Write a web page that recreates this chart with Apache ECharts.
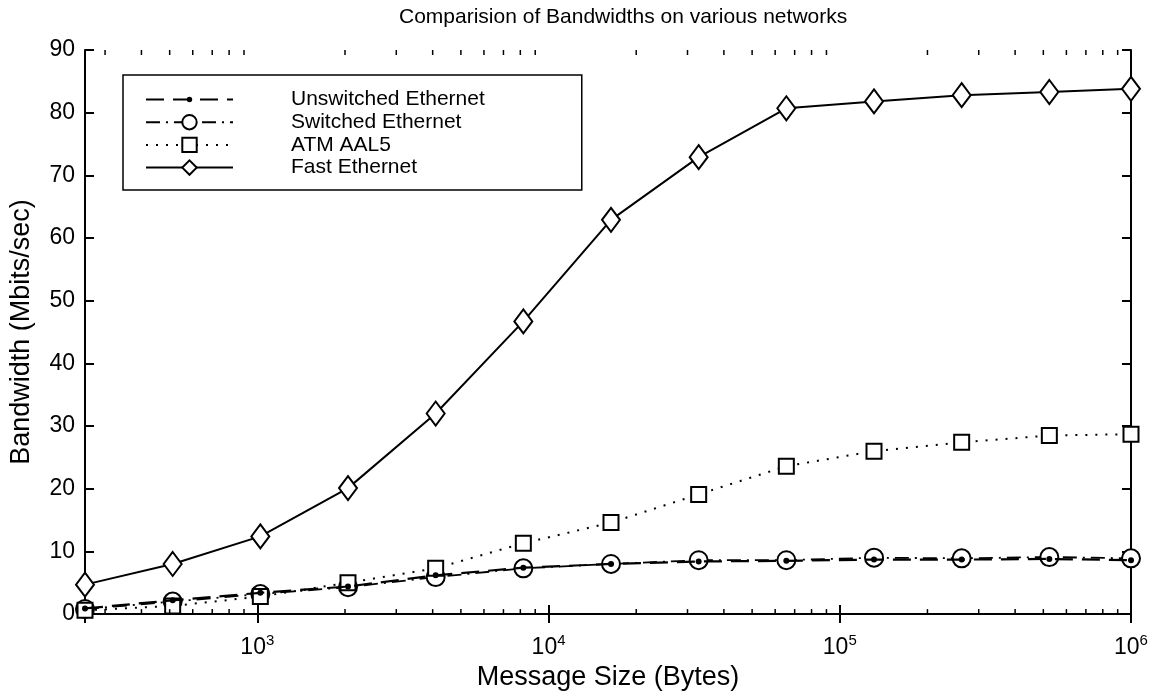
<!DOCTYPE html>
<html>
<head>
<meta charset="utf-8">
<title>Comparision of Bandwidths on various networks</title>
<script src="https://cdn.jsdelivr.net/npm/echarts@6/dist/echarts.min.js"></script>
<style>
  html, body { margin: 0; padding: 0; background: #fff; }
  #chart { width: 1156px; height: 696px; }
</style>
</head>
<body>
<div id="chart"></div>
<script>
// message sizes (bytes)
var sizes = [256, 512, 1024, 2048, 4096, 8192, 16384, 32768, 65536, 131072, 262144, 524288, 1000000];

// bandwidth in Mbits/sec
var unswitched = [0.9, 2.2, 3.4, 4.4, 6.2, 7.4, 8.0, 8.4, 8.5, 8.7, 8.7, 8.8, 8.6];
var switched   = [0.8, 2.0, 3.2, 4.3, 5.9, 7.3, 8.0, 8.6, 8.6, 9.0, 8.9, 9.1, 8.9];
var atm        = [0.6, 1.3, 2.8, 5.0, 7.3, 11.3, 14.6, 19.1, 23.6, 26.0, 27.4, 28.5, 28.7];
var fast       = [4.7, 8.0, 12.4, 20.1, 32.0, 46.7, 62.9, 72.9, 80.7, 81.8, 82.8, 83.3, 83.8];

var seriesNames = ['Unswitched Ethernet', 'Switched Ethernet', 'ATM AAL5', 'Fast Ethernet'];

var xMin = 256, xMax = 1000000;

function pairs(ys) {
    return sizes.map(function (s, i) { return [s, ys[i]]; });
}

// minor ticks of the log axis: 2..9 times each decade
var minorTicks = [];
for (var d = 2; d <= 5; d++) {
    for (var k = 2; k <= 9; k++) {
        var v = k * Math.pow(10, d);
        if (v > xMin && v < xMax) minorTicks.push(v);
    }
}

// small dot marker (matlab '.'), padded so it stays small in the legend too
var dotSymbol = 'path://M0,0M16,16M5,8a3,3 0 1,0 6,0a3,3 0 1,0 -6,0z';

var chart = echarts.init(document.getElementById('chart'));
var font = 'Liberation Sans, Arial, Helvetica, sans-serif';
var axisStyle = { color: '#000', width: 2 };

var option = {
    backgroundColor: '#fff',
    animation: false,
    textStyle: { fontFamily: font, color: '#000' },
    title: {
        text: 'Comparision of Bandwidths on various networks',
        left: 394,
        top: 2,
        textStyle: { fontSize: 21, fontWeight: 'normal', color: '#000', fontFamily: font }
    },
    legend: {
        data: seriesNames,
        orient: 'vertical',
        left: 123,
        top: 75,
        itemWidth: 87,
        itemHeight: 18,
        itemGap: 1.7,
        padding: [14, 97, 12, 22],
        borderColor: '#000',
        borderWidth: 1.5,
        textStyle: { fontSize: 21, lineHeight: 18, color: '#000', fontFamily: font, padding: [0, 0, 0, 53] }
    },
    grid: { left: 83, right: 25, top: 50, bottom: 81 },
    xAxis: [
        {
            type: 'log',
            logBase: 10,
            min: xMin,
            max: xMax,
            position: 'bottom',
            name: 'Message Size (Bytes)',
            nameLocation: 'middle',
            nameGap: 46,
            nameTextStyle: { fontSize: 27, color: '#000' },
            axisLine: { lineStyle: axisStyle },
            axisTick: { inside: true, length: 9, lineStyle: axisStyle },
            splitLine: { show: false },
            axisLabel: {
                margin: 19,
                color: '#000',
                formatter: function (v) {
                    var e = Math.log10(v);
                    if (Math.abs(e - Math.round(e)) > 1e-6) return '';
                    return '{b|10}{s|' + Math.round(e) + '}';
                },
                rich: {
                    b: { fontSize: 23, color: '#000', fontFamily: font },
                    s: { fontSize: 15, color: '#000', fontFamily: font, verticalAlign: 'top', padding: [0, 0, 14, 0] }
                }
            }
        },
        {
            type: 'log',
            logBase: 10,
            min: xMin,
            max: xMax,
            position: 'top',
            axisLine: { lineStyle: axisStyle },
            axisTick: { inside: true, length: 9, lineStyle: axisStyle },
            axisLabel: { show: false },
            splitLine: { show: false }
        }
    ],
    yAxis: [
        {
            type: 'value',
            min: 0,
            max: 90,
            interval: 10,
            name: 'Bandwidth (Mbits/sec)',
            nameLocation: 'middle',
            nameGap: 50,
            nameTextStyle: { fontSize: 27, color: '#000' },
            axisLine: { lineStyle: axisStyle },
            axisTick: { inside: true, length: 9, lineStyle: axisStyle },
            splitLine: { show: false },
            axisLabel: { fontSize: 23, color: '#000', margin: 10 }
        },
        {
            type: 'value',
            min: 0,
            max: 90,
            interval: 10,
            position: 'right',
            axisLine: { lineStyle: axisStyle },
            axisTick: { inside: true, length: 9, lineStyle: axisStyle },
            axisLabel: { show: false },
            splitLine: { show: false }
        }
    ],
    series: [
        {
            name: seriesNames[0],
            type: 'line',
            data: pairs(unswitched),
            symbol: dotSymbol,
            symbolSize: 16,
            itemStyle: { color: '#000' },
            lineStyle: { color: '#000', width: 2.2, type: [18, 9] },
            z: 4
        },
        {
            name: seriesNames[1],
            type: 'line',
            data: pairs(switched),
            symbol: 'emptyCircle',
            symbolSize: 18,
            itemStyle: { color: '#000', borderColor: '#000', borderWidth: 2 },
            lineStyle: { color: '#000', width: 1.8, type: [14, 6, 2, 6] },
            z: 3
        },
        {
            name: seriesNames[2],
            type: 'line',
            data: pairs(atm),
            symbol: 'emptyRect',
            symbolSize: 15,
            itemStyle: { color: '#000', borderColor: '#000', borderWidth: 2 },
            lineStyle: { color: '#000', width: 2, type: [2, 8] },
            z: 3
        },
        {
            name: seriesNames[3],
            type: 'line',
            data: pairs(fast),
            symbol: 'emptyDiamond',
            symbolSize: [18, 24],
            itemStyle: { color: '#000', borderColor: '#000', borderWidth: 2 },
            lineStyle: { color: '#000', width: 2, type: 'solid' },
            z: 3
        },
        {
            name: 'minor ticks',
            type: 'custom',
            silent: true,
            data: minorTicks,
            encode: { x: 0 },
            renderItem: function (params, api) {
                var v = api.value(0);
                var b = api.coord([v, 0]);
                var t = api.coord([v, 90]);
                var st = { stroke: '#000', lineWidth: 1.5 };
                return {
                    type: 'group',
                    children: [
                        { type: 'line', shape: { x1: b[0], y1: b[1], x2: b[0], y2: b[1] - 5 }, style: st },
                        { type: 'line', shape: { x1: t[0], y1: t[1], x2: t[0], y2: t[1] + 5 }, style: st }
                    ]
                };
            },
            z: 5
        }
    ]
};

chart.setOption(option);
</script>
</body>
</html>
